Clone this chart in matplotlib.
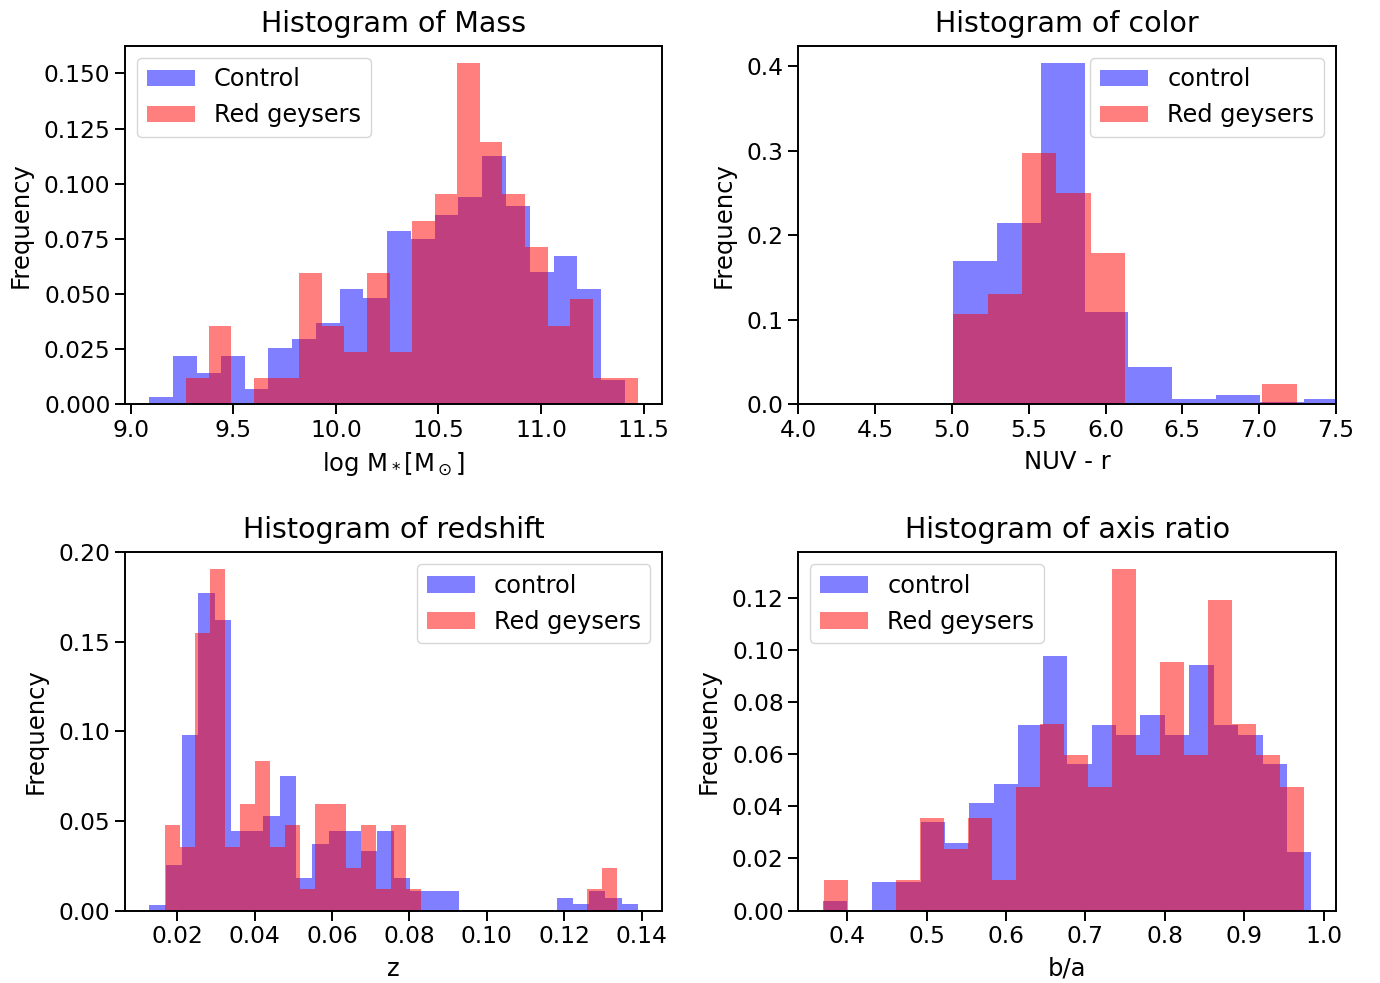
import numpy as np
import matplotlib.pyplot as plt

plt.rcParams['font.family'] = 'DejaVu Sans'
plt.rcParams['axes.linewidth'] = 1.4

# stellar mass, log M*
mass_ctrl_range = (9.091, 11.409)
mass_ctrl = [0.0034, 0.0221, 0.0143, 0.0221, 0.0071, 0.0258, 0.0296, 0.0371, 0.0521, 0.0483,
             0.0784, 0.0749, 0.0860, 0.0938, 0.1125, 0.0898, 0.0599, 0.0671, 0.0521, 0.0112]
mass_rg_range = (9.2705, 11.473)
mass_rg = [0.0119, 0.0357, 0.0, 0.0119, 0.0119, 0.0595, 0.0357, 0.0238, 0.0595, 0.0238,
           0.0833, 0.0952, 0.1548, 0.1190, 0.0952, 0.0714, 0.0357, 0.0476, 0.0119, 0.0119]

# NUV - r colour
color_ctrl_range = (5.008, 7.576)
color_ctrl = [0.1692, 0.2142, 0.4039, 0.1089, 0.0438, 0.0059, 0.0107, 0.0030, 0.0059]
color_rg_range = (5.008, 7.244)
color_rg = [0.1071, 0.1310, 0.2976, 0.2500, 0.1786, 0.0, 0.0, 0.0, 0.0, 0.0238]

# redshift
z_ctrl_range = (0.01284, 0.13906)
z_ctrl = [0.0034, 0.0255, 0.0978, 0.1773, 0.1622, 0.0445, 0.0445, 0.0525, 0.0752, 0.0181,
          0.0372, 0.0445, 0.0445, 0.0333, 0.0445, 0.0183, 0.0110, 0.0110, 0.0110, 0.0,
          0.0, 0.0, 0.0, 0.0, 0.0, 0.0070, 0.0037, 0.0110, 0.0070, 0.0037]
z_rg_range = (0.0168, 0.1336)
z_rg = [0.0476, 0.0357, 0.1548, 0.1905, 0.0357, 0.0595, 0.0833, 0.0357, 0.0476, 0.0119,
        0.0595, 0.0595, 0.0238, 0.0476, 0.0119, 0.0476, 0.0119, 0.0, 0.0, 0.0,
        0.0, 0.0, 0.0, 0.0, 0.0, 0.0, 0.0, 0.0, 0.0119, 0.0238]

# axis ratio b/a
ba_ctrl_range = (0.3694, 0.9847)
ba_ctrl = [0.0036, 0.0, 0.0108, 0.0108, 0.0340, 0.0261, 0.0413, 0.0487, 0.0713, 0.0978,
           0.0563, 0.0713, 0.0675, 0.0752, 0.0675, 0.0940, 0.0713, 0.0675, 0.0563, 0.0223]
ba_rg_range = (0.3707, 0.9748)
ba_rg = [0.0119, 0.0, 0.0, 0.0119, 0.0357, 0.0238, 0.0357, 0.0119, 0.0476, 0.0714,
         0.0595, 0.0476, 0.1310, 0.0595, 0.0952, 0.0595, 0.1190, 0.0714, 0.0595, 0.0476]


def draw(ax, ctrl, ctrl_range, rg, rg_range, title, xlabel, ctrl_label, loc):
    for vals, rng, col, lab in [(ctrl, ctrl_range, 'blue', ctrl_label),
                                (rg, rg_range, 'red', 'Red geysers')]:
        edges = np.linspace(rng[0], rng[1], len(vals) + 1)
        ax.hist(edges[:-1], bins=edges, weights=vals, color=col, alpha=0.5, label=lab)
    ax.set_title(title, fontsize=20.5, pad=10)
    ax.set_xlabel(xlabel, fontsize=17.5, labelpad=6)
    ax.set_ylabel('Frequency', fontsize=17.5, labelpad=8)
    ax.tick_params(labelsize=16.8, direction='out', length=7, width=1.4)
    ax.legend(loc=loc, fontsize=17.3)


fig, axes = plt.subplots(2, 2, figsize=(13.8, 9.83), dpi=100)
fig.subplots_adjust(left=0.0906, right=0.968, bottom=0.0736, top=0.9535,
                    wspace=0.253, hspace=0.411)

draw(axes[0, 0], mass_ctrl, mass_ctrl_range, mass_rg, mass_rg_range,
     'Histogram of Mass', r'log M$_*$[M$_\odot$]', 'Control', 'upper left')
draw(axes[0, 1], color_ctrl, color_ctrl_range, color_rg, color_rg_range,
     'Histogram of color', 'NUV - r', 'control', 'upper right')
axes[0, 1].set_xlim(4.0, 7.5)
draw(axes[1, 0], z_ctrl, z_ctrl_range, z_rg, z_rg_range,
     'Histogram of redshift', 'z', 'control', 'upper right')
draw(axes[1, 1], ba_ctrl, ba_ctrl_range, ba_rg, ba_rg_range,
     'Histogram of axis ratio', 'b/a', 'control', 'upper left')

fig.savefig('out.png', dpi=100)
